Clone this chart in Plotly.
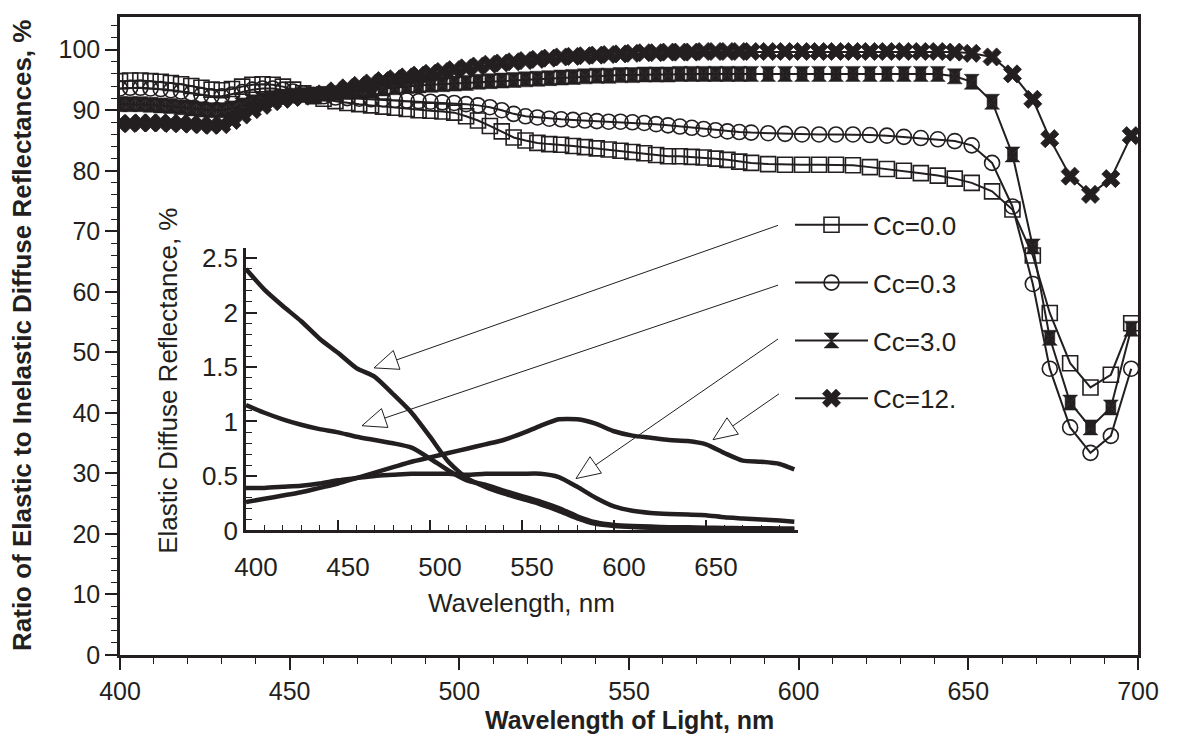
import plotly.graph_objects as go

INK = "#231f20"
FONT = "Liberation Sans, Arial, sans-serif"

# ---------------- main chart data ----------------
wavelength = [400, 403, 406, 409, 412, 415, 418, 421, 424, 427, 430, 433, 436, 439, 442, 445, 448, 451, 454, 457, 460,
              463.5, 467, 470.5, 474, 477.5, 481, 484.5, 488, 491.5, 495, 498.5, 502, 505.5, 509, 512.5, 516, 519.5,
              523, 526.5, 530, 533.5, 537, 540.5, 544, 547.5, 551, 554.5, 558, 561.5, 565, 568.5, 572, 575.5, 579,
              582.5, 586,
              591, 596, 601, 606, 611, 616, 621, 626, 631, 636, 641, 646, 651,
              657, 663, 669, 674, 680, 686, 692, 698]

ratio_cc00 = [94.8, 94.9, 94.9, 94.8, 94.7, 94.5, 94.3, 94.0, 93.7, 93.4, 93.3, 93.5, 93.9, 94.2, 94.3, 94.2, 93.9, 93.4, 92.8, 92.3, 91.9,
              91.5, 91.2, 91.0, 90.8, 90.6, 90.4, 90.2, 90.0, 89.9, 89.8, 89.6, 89.0, 88.3, 87.4, 86.5, 85.5, 85.0,
              84.6, 84.4, 84.3, 84.1, 83.9, 83.7, 83.5, 83.3, 83.1, 82.9, 82.6, 82.4, 82.4, 82.3, 82.2, 82.0, 81.8,
              81.5, 81.3,
              81.1, 81.0, 81.0, 81.0, 81.0, 80.9, 80.6, 80.3, 80.0, 79.6, 79.2, 78.7, 78.0,
              76.6, 73.6, 66.0, 56.5, 48.2, 44.2, 46.3, 54.8]

ratio_cc03 = [93.6, 93.7, 93.7, 93.6, 93.5, 93.3, 93.1, 92.8, 92.5, 92.3, 92.3, 92.6, 93.0, 93.4, 93.6, 93.6, 93.4, 93.1, 92.8, 92.5, 92.3,
              92.1, 92.0, 91.9, 91.8, 91.8, 91.7, 91.6, 91.5, 91.4, 91.3, 91.2, 91.0, 90.8, 90.5, 90.0, 89.4, 89.0,
              88.8, 88.6, 88.5, 88.4, 88.3, 88.2, 88.1, 88.1, 88.0, 87.9, 87.7, 87.5, 87.3, 87.1, 86.9, 86.7, 86.5,
              86.4, 86.3,
              86.2, 86.1, 86.0, 86.0, 86.0, 86.0, 85.9, 85.8, 85.6, 85.4, 85.2, 84.9, 84.2,
              81.3, 74.1, 61.3, 47.3, 37.6, 33.4, 36.2, 47.3]

ratio_cc30 = [91.0, 91.0, 91.0, 90.9, 90.8, 90.7, 90.5, 90.3, 90.1, 90.0, 90.0, 90.3, 90.8, 91.3, 91.7, 92.0, 92.2, 92.4, 92.5, 92.6, 92.7,
              92.8, 93.0, 93.2, 93.4, 93.6, 93.8, 94.0, 94.1, 94.2, 94.3, 94.4, 94.5, 94.7, 94.8, 94.9, 95.0, 95.1,
              95.2, 95.3, 95.4, 95.5, 95.6, 95.7, 95.7, 95.8, 95.8, 95.9, 95.9, 95.9, 96.0, 96.0, 96.0, 96.0, 96.0,
              96.0, 96.0,
              96.0, 96.0, 96.0, 96.0, 96.0, 96.0, 96.0, 96.0, 96.0, 96.0, 96.0, 95.6, 94.7,
              91.4, 82.7, 67.5, 52.4, 41.7, 37.6, 40.9, 53.9]

ratio_cc12 = [87.8, 87.8, 87.9, 87.9, 87.9, 87.8, 87.8, 87.7, 87.6, 87.5, 87.6, 88.3, 89.2, 90.1, 90.8, 91.4, 91.8, 92.1, 92.3, 92.5, 92.7,
              93.2, 93.7, 94.1, 94.5, 94.9, 95.2, 95.5, 95.8, 96.1, 96.4, 96.7, 97.0, 97.3, 97.6, 97.8, 98.0, 98.2,
              98.4, 98.6, 98.8, 98.9, 99.0, 99.1, 99.2, 99.3, 99.4, 99.5, 99.5, 99.6, 99.6, 99.6, 99.7, 99.7, 99.7,
              99.7, 99.7,
              99.7, 99.7, 99.7, 99.7, 99.7, 99.7, 99.7, 99.7, 99.7, 99.7, 99.7, 99.6, 99.4,
              98.8, 96.0, 91.8, 85.3, 79.1, 76.1, 78.7, 85.8]

series_names = ["Cc=0.0", "Cc=0.3", "Cc=3.0", "Cc=12."]

# ---------------- inset data ----------------
inset_wavelength = [400, 410, 420, 430, 440, 450, 460, 470, 480, 490, 500, 510, 520, 530, 540, 550, 560, 570, 580,
                    590, 600, 610, 620, 630, 640, 650, 660, 670, 680, 690, 698]
elastic_cc00 = [2.40, 2.21, 2.06, 1.92, 1.76, 1.63, 1.49, 1.41, 1.25, 1.08, 0.86, 0.63, 0.48, 0.40, 0.34, 0.29, 0.24,
                0.18, 0.11, 0.06, 0.04, 0.03, 0.025, 0.02, 0.018, 0.015, 0.013, 0.012, 0.011, 0.01, 0.01]
elastic_cc03 = [1.15, 1.08, 1.02, 0.97, 0.93, 0.90, 0.86, 0.83, 0.80, 0.76, 0.66, 0.55, 0.46, 0.42, 0.365, 0.315, 0.265,
                0.205, 0.13, 0.075, 0.05, 0.04, 0.035, 0.03, 0.03, 0.025, 0.022, 0.02, 0.02, 0.018, 0.018]
elastic_cc30 = [0.39, 0.39, 0.40, 0.41, 0.43, 0.46, 0.48, 0.50, 0.51, 0.52, 0.52, 0.52, 0.51, 0.52, 0.52, 0.52, 0.52,
                0.49, 0.40, 0.30, 0.22, 0.18, 0.16, 0.15, 0.145, 0.14, 0.12, 0.11, 0.10, 0.09, 0.08]
elastic_cc12 = [0.26, 0.29, 0.32, 0.35, 0.39, 0.43, 0.48, 0.53, 0.58, 0.63, 0.67, 0.71, 0.75, 0.79, 0.83, 0.89, 0.96,
                1.02, 1.02, 0.98, 0.91, 0.87, 0.85, 0.83, 0.82, 0.79, 0.71, 0.64, 0.63, 0.61, 0.56]

main_xticks = [400, 450, 500, 550, 600, 650, 700]
main_yticks = [0, 10, 20, 30, 40, 50, 60, 70, 80, 90, 100]
inset_xticks = [400, 450, 500, 550, 600, 650, 700]
inset_xticktext = ["400", "450", "500", "550", "600", "650", ""]

fig = go.Figure()

line_main = dict(color=INK, width=2)

fig.add_trace(go.Scatter(x=wavelength, y=ratio_cc00, name=series_names[0], mode="lines+markers",
                         line=line_main, legendgroup="g0",
                         marker=dict(symbol="square-open", size=15, color=INK, line=dict(width=1.6, color=INK))))
fig.add_trace(go.Scatter(x=wavelength, y=ratio_cc03, name=series_names[1], mode="lines+markers",
                         line=line_main, legendgroup="g1",
                         marker=dict(symbol="circle-open", size=15, color=INK, line=dict(width=1.6, color=INK))))
fig.add_trace(go.Scatter(x=wavelength, y=ratio_cc30, name=series_names[2], mode="lines+markers",
                         line=line_main, legendgroup="g2",
                         marker=dict(symbol="hourglass", size=15, color=INK, line=dict(width=0.5, color=INK))))
fig.add_trace(go.Scatter(x=wavelength, y=ratio_cc30, name=series_names[2], mode="markers",
                         legendgroup="g2", showlegend=False,
                         marker=dict(symbol="bowtie", size=10, color=INK, line=dict(width=0.5, color=INK))))
fig.add_trace(go.Scatter(x=wavelength, y=ratio_cc12, name=series_names[3], mode="lines+markers",
                         line=line_main, legendgroup="g3",
                         marker=dict(symbol="x", size=16, color=INK, line=dict(width=0.8, color=INK))))

for ys in [elastic_cc00, elastic_cc03, elastic_cc30, elastic_cc12]:
    fig.add_trace(go.Scatter(x=inset_wavelength, y=ys, mode="lines", xaxis="x2", yaxis="y2",
                             showlegend=False, line=dict(color=INK, width=4.5, shape="spline", smoothing=0.6)))

# pixel -> paper helpers (plot area 120..1138 x 15..655)
L, R, T, B = 120, 1138, 15, 655


def px(xp, yp):
    return ((xp - L) / (R - L), (B - yp) / (B - T))


shapes = []
arrows = [((374, 367), (778, 224)), ((362, 425), (778, 284)), ((576, 478), (778, 338)), ((713, 439), (779, 393))]
for (tx, ty), (sx, sy) in arrows:
    dx, dy = sx - tx, sy - ty
    n = (dx * dx + dy * dy) ** 0.5
    ux, uy = dx / n, dy / n
    hl, hw = 24, 10
    bx, by = tx + hl * ux, ty + hl * uy
    nx, ny = -uy, ux
    p1 = px(tx, ty)
    p2 = px(bx + hw * nx, by + hw * ny)
    p3 = px(bx - hw * nx, by - hw * ny)
    pb = px(bx, by)
    ps = px(sx, sy)
    shapes.append(dict(type="line", xref="paper", yref="paper", x0=pb[0], y0=pb[1], x1=ps[0], y1=ps[1],
                       line=dict(color=INK, width=1)))
    shapes.append(dict(type="path", xref="paper", yref="paper",
                       path=f"M{p1[0]},{p1[1]} L{p2[0]},{p2[1]} L{p3[0]},{p3[1]} Z",
                       fillcolor="white", line=dict(color=INK, width=1)))

annotations = [
    dict(text="<b>Wavelength of Light, nm</b>", xref="paper", yref="paper", x=0.5, y=px(0, 720)[1],
         xanchor="center", yanchor="middle", showarrow=False, font=dict(size=25, color=INK, family=FONT)),
    dict(text="<b>Ratio of Elastic to Inelastic Diffuse Reflectances, %</b>", xref="paper", yref="paper",
         x=px(22, 0)[0], y=0.5, textangle=-90, xanchor="center", yanchor="middle", showarrow=False,
         font=dict(size=26, color=INK, family=FONT)),
    dict(text="Elastic Diffuse Reflectance, %", xref="paper", yref="paper",
         x=px(168, 0)[0], y=px(0, 380)[1], textangle=-90, xanchor="center", yanchor="middle", showarrow=False,
         font=dict(size=26, color=INK, family=FONT)),
    dict(text="Wavelength, nm", xref="paper", yref="paper", x=px(521, 0)[0], y=px(0, 603)[1],
         xanchor="center", yanchor="middle", showarrow=False, font=dict(size=26, color=INK, family=FONT)),
]

fig.update_layout(
    width=1180, height=740,
    margin=dict(l=L, r=1180 - R, t=T, b=740 - B),
    paper_bgcolor="white", plot_bgcolor="rgba(0,0,0,0)",
    font=dict(family=FONT, size=25, color=INK),
    showlegend=True,
    legend=dict(x=px(790, 0)[0], y=px(0, 200)[1], xanchor="left", yanchor="top",
                bgcolor="rgba(0,0,0,0)", font=dict(size=26, color=INK, family=FONT),
                itemwidth=73, traceorder="grouped", tracegroupgap=21),
    xaxis=dict(range=[400, 700], tickvals=main_xticks, ticks="outside", ticklen=12, tickwidth=1.5,
               tickcolor=INK, showline=True, linewidth=2.5, linecolor=INK, mirror=True,
               showgrid=False, zeroline=False, tickfont=dict(size=25),
               minor=dict(dtick=10, ticks="outside", ticklen=6, tickwidth=1.2, tickcolor=INK, showgrid=False)),
    yaxis=dict(range=[0, 105.4], tickvals=main_yticks, ticks="outside", ticklen=12, tickwidth=1.5,
               tickcolor=INK, showline=True, linewidth=2.5, linecolor=INK, mirror=True,
               showgrid=False, zeroline=False, tickfont=dict(size=25),
               minor=dict(dtick=2, ticks="outside", ticklen=6, tickwidth=1.2, tickcolor=INK, showgrid=False)),
    xaxis2=dict(domain=[px(246, 0)[0], px(798, 0)[0]], anchor="y2", range=[400, 700],
                tickvals=inset_xticks, ticktext=inset_xticktext, ticks="inside", ticklen=11, tickwidth=1.5,
                tickcolor=INK, showline=True, linewidth=2.5, linecolor=INK, showgrid=False, zeroline=False,
                tickfont=dict(size=26), ticklabelshift=10, ticklabelstandoff=12,
                minor=dict(dtick=10, ticks="inside", ticklen=6, tickwidth=1.2, tickcolor=INK, showgrid=False)),
    yaxis2=dict(domain=[px(0, 530)[1], px(0, 247)[1]], anchor="x2", range=[0, 2.59],
                dtick=0.5, tick0=0, ticks="inside", ticklen=11, tickwidth=1.5,
                tickcolor=INK, showline=True, linewidth=2.5, linecolor=INK, showgrid=False, zeroline=False,
                tickfont=dict(size=26),
                minor=dict(dtick=0.1, ticks="inside", ticklen=6, tickwidth=1.2, tickcolor=INK, showgrid=False)),
    shapes=shapes,
    annotations=annotations,
)

fig.write_html("out.html")
